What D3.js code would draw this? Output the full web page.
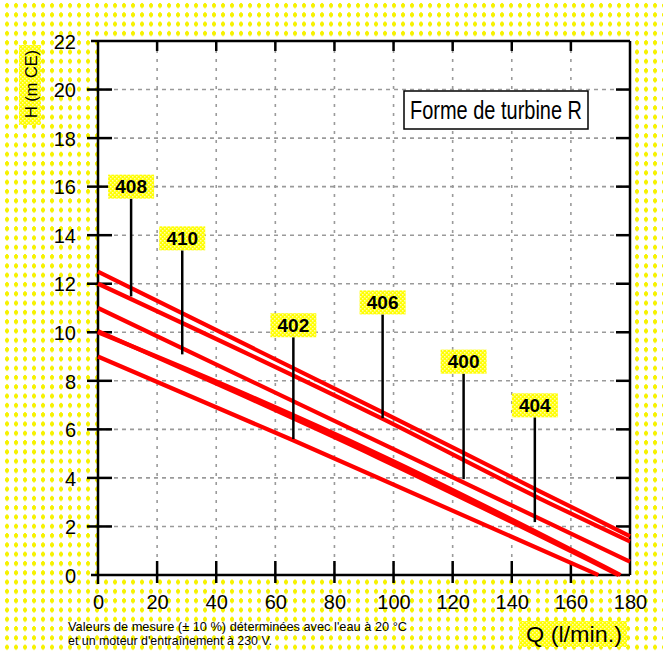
<!DOCTYPE html>
<html><head><meta charset="utf-8">
<script src="https://cdn.jsdelivr.net/npm/d3@7"></script>
<style>
html,body{margin:0;padding:0;background:#fff;}
svg{display:block;}
text{font-family:'Liberation Sans',Arial,Helvetica,sans-serif;}
</style></head>
<body>
<svg id="chart" width="663" height="652"></svg>
<script>
// ---- data ----
const qTicks = [0,20,40,60,80,100,120,140,160,180];
const hTicks = [0,2,4,6,8,10,12,14,16,18,20,22];
const models = ["406","408","400","410","404","402"];
const curve406 = [[0,12.5],[96,6.72],[149.5,3.45],[180,1.6]];
const curve408 = [[0,12.0],[96,6.45],[149.5,3.15],[180,1.38]];
const curve400 = [[0,11.0],[95.4,5.45],[180,0.55]];
const curve410 = [[0,10.05],[48,7.45],[95.4,4.8],[176.2,0]];
const curve404 = [[0,10.0],[48,7.55],[95.4,4.95],[176.8,0]];
const curve402 = [[0,9.0],[66,5.55],[169.3,0]];
const curves = [curve406,curve408,curve400,curve410,curve404,curve402];
// label positions: [Q, H of label centre, H of pointer end]
const labelNames = ["408","410","402","406","400","404"];
const labelQ = [11.2,28.5,66.1,96.3,123.7,147.8];
const labelH = [16.0,13.87,10.29,11.23,8.79,6.99];
const pointerEndH = [11.48,9.09,5.6,6.46,3.95,2.18];
const title = "Forme de turbine R";
const yTitle = "H (m CE)";
const xTitle = "Q (l/min.)";
const note = ["Valeurs de mesure (± 10 %) déterminées avec l'eau à 20 °C","et un moteur d'entraînement à 230 V."];

// ---- drawing ----
const svg = d3.select("#chart");
const W = 663, H = 652;
const x = d3.scaleLinear().domain([0,180]).range([98,630]);
const y = d3.scaleLinear().domain([0,22]).range([575,41]);

const defs = svg.append("defs");
const pat = defs.append("pattern").attr("id","dots").attr("patternUnits","userSpaceOnUse")
  .attr("width",9).attr("height",9.3).attr("x",4).attr("y",2);
pat.append("rect").attr("x",0).attr("y",0).attr("width",9).attr("height",9.3).attr("fill","#fff");
pat.append("rect").attr("x",1).attr("y",2).attr("width",4).attr("height",3).attr("fill","#f6f200");
pat.append("rect").attr("x",2).attr("y",1).attr("width",2).attr("height",5).attr("fill","#f6f200");
const pat2 = defs.append("pattern").attr("id","lab").attr("patternUnits","userSpaceOnUse")
  .attr("width",4).attr("height",4);
pat2.append("rect").attr("width",4).attr("height",4).attr("fill","#ffff00");
pat2.append("rect").attr("x",0).attr("y",0).attr("width",1.5).attr("height",1.5).attr("fill","#fffbb0");
pat2.append("rect").attr("x",2).attr("y",2).attr("width",1.5).attr("height",1.5).attr("fill","#fffbb0");

svg.append("rect").attr("width",W).attr("height",H).attr("fill","url(#dots)");
svg.append("rect").attr("x",x(0)).attr("y",y(22)).attr("width",x(180)-x(0)).attr("height",y(0)-y(22)).attr("fill","#fff");

// grid
const grid = svg.append("g").attr("stroke","#9a9a9a").attr("stroke-width",1.6);
grid.selectAll("line.h").data(hTicks.filter(d=>d>0&&d<22)).join("line")
  .attr("x1",x(0)).attr("x2",x(180)).attr("y1",d=>y(d)).attr("y2",d=>y(d))
  .attr("stroke-dasharray","4,4");
grid.selectAll("line.v").data(qTicks.filter(d=>d>0&&d<180)).join("line")
  .attr("y1",y(22)).attr("y2",y(0)).attr("x1",d=>x(d)).attr("x2",d=>x(d))
  .attr("stroke-dasharray","3,6");

// axes via d3
const axL = svg.append("g").attr("transform",`translate(${x(0)},0)`)
  .call(d3.axisLeft(y).tickValues(hTicks).tickSize(0).tickPadding(22));
axL.select(".domain").remove();
axL.selectAll("text").attr("font-size",20).attr("fill","#000").attr("dy","0.36em");
const axB = svg.append("g").attr("transform",`translate(0,${y(0)})`)
  .call(d3.axisBottom(x).tickValues(qTicks).tickSize(0).tickPadding(20));
axB.select(".domain").remove();
axB.selectAll("text").attr("font-size",20).attr("fill","#000");

const frame = svg.append("g").attr("stroke","#000");
frame.selectAll("line.yt").data(hTicks.filter(d=>d>0&&d<22)).join("line")
  .attr("x1",x(0)-11).attr("x2",x(0)+14).attr("y1",d=>y(d)).attr("y2",d=>y(d)).attr("stroke-width",2.5);
frame.selectAll("line.yr").data(hTicks.filter(d=>d>0&&d<22)).join("line")
  .attr("x1",x(180)-14).attr("x2",x(180)).attr("y1",d=>y(d)).attr("y2",d=>y(d)).attr("stroke-width",2.5);
frame.selectAll("line.xt").data(qTicks.filter(d=>d>0&&d<180)).join("line")
  .attr("x1",d=>x(d)).attr("x2",d=>x(d)).attr("y1",y(0)-14).attr("y2",y(0)+8).attr("stroke-width",2.5);
frame.selectAll("line.xtt").data(qTicks.filter(d=>d>0&&d<180)).join("line")
  .attr("x1",d=>x(d)).attr("x2",d=>x(d)).attr("y1",y(22)).attr("y2",y(22)+10).attr("stroke-width",2.5);
frame.append("line").attr("x1",x(0)-7).attr("x2",x(180)).attr("y1",y(22)).attr("y2",y(22)).attr("stroke-width",2.5);
frame.append("line").attr("x1",x(0)-7).attr("x2",x(180)).attr("y1",y(0)).attr("y2",y(0)).attr("stroke-width",2.5);
frame.append("line").attr("x1",x(0)).attr("x2",x(0)).attr("y1",y(22)).attr("y2",y(0)+9).attr("stroke-width",2.5);
frame.append("line").attr("x1",x(180)).attr("x2",x(180)).attr("y1",y(22)).attr("y2",y(0)).attr("stroke-width",2.5);

// curves
const line = d3.line().x(d=>x(d[0])).y(d=>y(d[1])).curve(d3.curveMonotoneX);
svg.append("g").selectAll("path").data(curves).join("path")
  .attr("d",line).attr("fill","none").attr("stroke","#ff0000").attr("stroke-width",4.2);

// labels
const lg = svg.append("g");
labelNames.forEach((n,i)=>{
  const cx = x(labelQ[i]), cy = y(labelH[i]);
  lg.append("line").attr("x1",cx).attr("x2",cx).attr("y1",cy+12).attr("y2",y(pointerEndH[i]))
    .attr("stroke","#000").attr("stroke-width",2.5);
  lg.append("rect").attr("x",cx-23).attr("y",cy-12).attr("width",46).attr("height",24).attr("fill","url(#lab)");
  lg.append("text").attr("x",cx).attr("y",cy).attr("dy","0.36em").attr("text-anchor","middle")
    .attr("font-size",19).attr("font-weight","bold").text(n);
});

// title box
svg.append("rect").attr("x",404).attr("y",91).attr("width",184).attr("height",38)
  .attr("fill","#fff").attr("stroke","#000").attr("stroke-width",1.5);
svg.append("text").attr("x",410).attr("y",110).attr("dy","0.36em")
  .attr("font-size",25).attr("textLength",172).attr("lengthAdjust","spacingAndGlyphs").text(title);

// axis titles
svg.append("rect").attr("x",19).attr("y",45).attr("width",22).attr("height",80).attr("fill","url(#lab)");
svg.append("text").attr("transform","translate(31,118) rotate(-90)")
  .attr("dy","0.36em").attr("font-size",17).attr("textLength",68).attr("lengthAdjust","spacingAndGlyphs").text(yTitle);
svg.append("rect").attr("x",519).attr("y",621).attr("width",108).attr("height",26).attr("fill","url(#lab)");
svg.append("text").attr("x",526).attr("y",634).attr("dy","0.36em")
  .attr("font-size",22).attr("textLength",96).attr("lengthAdjust","spacingAndGlyphs").text(xTitle);
const noteLen = [339,204];
svg.selectAll("text.note").data(note).join("text").attr("class","note")
  .attr("x",68).attr("y",(d,i)=>631+i*14).attr("font-size",13)
  .attr("textLength",(d,i)=>noteLen[i]).attr("lengthAdjust","spacingAndGlyphs").text(d=>d);
</script>
</body></html>
